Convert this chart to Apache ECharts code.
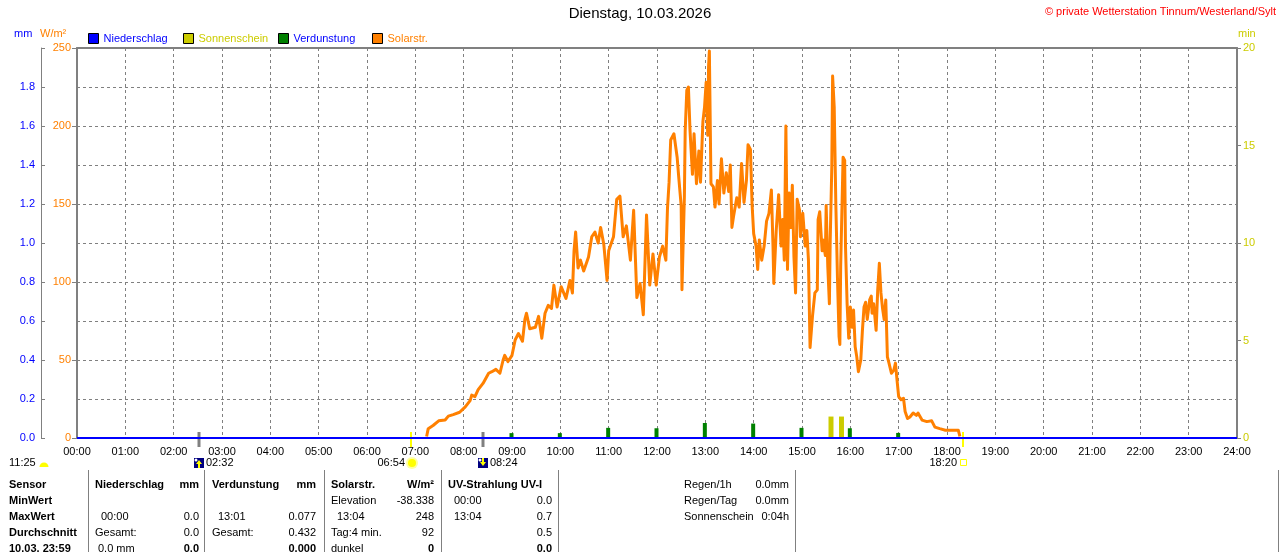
<!DOCTYPE html>
<html>
<head>
<meta charset="utf-8">
<title>Dienstag, 10.03.2026</title>
<script src="https://cdn.jsdelivr.net/npm/echarts@6/dist/echarts.min.js"></script>
<style>
html, body { margin: 0; padding: 0; background: #fff; }
#chart { width: 1280px; height: 552px; }
</style>
</head>
<body>
<div id="chart"></div>
<script>
var FONT = '"Liberation Sans", Arial, sans-serif';

// Solarstrahlung W/m², Zeit in Minuten seit 00:00
var solarTime = [
  434, 436, 442, 449, 457, 461, 467, 475, 482, 488, 490, 494, 498, 504, 511, 515, 520, 525, 529, 531,
  535, 540, 544, 548, 553, 556, 558, 562, 569, 573, 577, 581, 585, 589, 592, 596, 601, 607, 612, 615,
  617, 619, 622, 625, 629, 635, 639, 643, 647, 650, 654, 658, 660, 666, 670, 674, 678, 682, 687, 691,
  695, 699, 703, 707, 711, 715, 719, 723, 727, 731, 733, 735, 737, 741, 745, 747, 750, 751, 754, 755,
  757, 759, 761, 764, 766, 769, 772, 774, 777, 779, 781, 783, 784, 785, 787, 790, 792, 795, 797, 800,
  803, 806, 809, 811, 813, 815, 819, 822, 825, 828, 831, 833, 836, 838, 840, 843, 845, 847, 850, 853,
  856, 859, 862, 864, 865, 868, 871, 874, 876, 878, 880, 882, 884, 886, 888, 890, 892, 894, 897, 898,
  901, 904, 906, 908, 910, 913, 916, 919, 920, 922, 925, 926, 929, 930, 932, 934, 935, 937, 938, 940,
  942, 944, 946, 947, 948, 951, 953, 954, 956, 958, 960, 962, 964, 966, 968, 970, 973, 975, 977, 979,
  981, 984, 986, 987, 989, 992, 994, 996, 998, 1000, 1002, 1004, 1006, 1008, 1011, 1014, 1016, 1018, 1020, 1023,
  1026, 1028, 1031, 1034, 1038, 1042, 1044, 1049, 1055, 1061, 1065, 1071, 1078, 1086, 1094, 1096
];
var solarValue = [
  1, 6, 8, 11, 11.5, 14, 15, 16.5, 20, 24, 27.5, 26.5, 31, 35, 41.5, 42.5, 44, 41.5, 50, 53,
  49, 53, 63, 67, 62, 76, 80, 70, 71, 78, 64, 80, 85, 83, 98, 84, 97, 89.5, 101, 93,
  120, 132, 109, 114, 107, 116, 129, 132, 125, 135, 124, 101, 120, 129, 153, 155, 129, 136, 114, 146,
  90, 99, 79, 143, 98, 118, 98, 116, 123, 114, 147, 164, 191, 195, 180, 167, 149, 95, 155, 197,
  223, 225, 197, 169, 195, 163, 184, 164, 203, 212, 228, 194, 238, 248, 163, 161, 148, 165, 150, 179,
  157, 170, 158, 175, 135, 142, 154, 148, 176, 151, 165, 188, 185, 150, 131, 123, 108, 127, 114, 123,
  139, 144, 159, 123, 99, 133, 156, 123, 140, 114, 200, 108, 157, 135, 162, 116, 93, 153, 146, 129,
  144, 123, 133, 114, 58, 78, 93, 95, 140, 145, 120, 127, 117, 149, 110, 86, 126, 174, 232, 212,
  150, 103, 65, 60, 110, 180, 178, 123, 86, 64, 84, 71, 82, 58.5, 52, 42.5, 50, 69, 84, 87,
  76, 88.5, 91, 80, 86, 69, 95, 112, 93, 83, 76, 88.5, 52, 48, 41.5, 43.5, 48, 37, 26.5, 24.5,
  25.5, 17, 12.5, 13.5, 16, 14.5, 16, 11.5, 10.5, 11, 7, 6, 5, 5, 5, 1
];

// Verdunstung mm
var evapTime = ['09:00', '10:00', '11:00', '12:00', '13:00', '14:00', '15:00', '16:00', '17:00'];
var evapValue = [0.025, 0.025, 0.052, 0.05, 0.077, 0.074, 0.052, 0.05, 0.026];

// Sonnenschein min
var sunTime = ['15:36', '15:49'];
var sunValue = [1.1, 1.1];

// Niederschlag mm
var rainTime = ['00:00', '24:00'];
var rainValue = [0, 0];

// Mond / Sonne
var astroEvents = [
  { time: '02:32', kind: 'moonrise' },
  { time: '06:54', kind: 'sunrise' },
  { time: '08:24', kind: 'moonset' },
  { time: '18:20', kind: 'sunset' }
];

// Tabelle unten
var tableRowY = [485, 501, 517, 533, 549];
var tableCells = [
  // [zeile, x, text, ausrichtung, fett]
  [0, 9, 'Sensor', 'left', true], [1, 9, 'MinWert', 'left', true], [2, 9, 'MaxWert', 'left', true],
  [3, 9, 'Durchschnitt', 'left', true], [4, 9, '10.03. 23:59', 'left', true],
  [0, 95, 'Niederschlag', 'left', true], [0, 199, 'mm', 'right', true],
  [2, 101, '00:00', 'left', false], [2, 199, '0.0', 'right', false],
  [3, 95, 'Gesamt:', 'left', false], [3, 199, '0.0', 'right', false],
  [4, 98, '0.0 mm', 'left', false], [4, 199, '0.0', 'right', true],
  [0, 212, 'Verdunstung', 'left', true], [0, 316, 'mm', 'right', true],
  [2, 218, '13:01', 'left', false], [2, 316, '0.077', 'right', false],
  [3, 212, 'Gesamt:', 'left', false], [3, 316, '0.432', 'right', false],
  [4, 316, '0.000', 'right', true],
  [0, 331, 'Solarstr.', 'left', true], [0, 434, 'W/m²', 'right', true],
  [1, 331, 'Elevation', 'left', false], [1, 434, '-38.338', 'right', false],
  [2, 337, '13:04', 'left', false], [2, 434, '248', 'right', false],
  [3, 331, 'Tag:4 min.', 'left', false], [3, 434, '92', 'right', false],
  [4, 331, 'dunkel', 'left', false], [4, 434, '0', 'right', true],
  [0, 448, 'UV-Strahlung UV-I', 'left', true],
  [1, 454, '00:00', 'left', false], [1, 552, '0.0', 'right', false],
  [2, 454, '13:04', 'left', false], [2, 552, '0.7', 'right', false],
  [3, 552, '0.5', 'right', false], [4, 552, '0.0', 'right', true],
  [0, 684, 'Regen/1h', 'left', false], [0, 789, '0.0mm', 'right', false],
  [1, 684, 'Regen/Tag', 'left', false], [1, 789, '0.0mm', 'right', false],
  [2, 684, 'Sonnenschein', 'left', false], [2, 789, '0:04h', 'right', false]
];
var tableSeparators = [88, 204, 324, 441, 558, 795, 1278];

function toMin(s) {
  if (typeof s === 'number') return s;
  var p = s.split(':');
  return +p[0] * 60 + +p[1];
}
function pairs(t, v) {
  return t.map(function (x, i) { return [toMin(x), v[i]]; });
}
function hhmm(m) {
  var h = Math.floor(m / 60), mm = m % 60;
  return (h < 10 ? '0' : '') + h + ':' + (mm < 10 ? '0' : '') + mm;
}
function txt(x, y, s, color, align, bold) {
  return {
    type: 'text', x: x, y: y, silent: true,
    style: {
      text: s, fill: color || '#000',
      font: (bold ? 'bold ' : '') + '11px ' + FONT,
      textAlign: align || 'left', textVerticalAlign: 'middle'
    }
  };
}
function seg(x1, y1, x2, y2, color, w) {
  return { type: 'line', silent: true, shape: { x1: x1, y1: y1, x2: x2, y2: y2 }, style: { stroke: color, lineWidth: w } };
}

var legendDefs = [
  { name: 'Niederschlag', left: 88, text: '#0000FF' },
  { name: 'Sonnenschein', left: 183, text: '#CCCC00' },
  { name: 'Verdunstung', left: 278, text: '#0000FF' },
  { name: 'Solarstr.', left: 372, text: '#FF8000' }
];

var chart = echarts.init(document.getElementById('chart'));

var option = {
  animation: false,
  textStyle: { fontFamily: FONT },
  title: [
    { text: 'Dienstag, 10.03.2026', left: 'center', top: 6, padding: 0,
      textStyle: { fontSize: 15, fontWeight: 'normal', color: '#000', fontFamily: FONT } },
    { text: '© private Wetterstation Tinnum/Westerland/Sylt', right: 4, top: 6, padding: 0,
      textStyle: { fontSize: 11, fontWeight: 'normal', color: '#FF0000', fontFamily: FONT } }
  ],
  legend: legendDefs.map(function (d) {
    return {
      data: [d.name], left: d.left, top: 33, padding: 0, itemGap: 0,
      itemWidth: 10, itemHeight: 10, icon: 'rect', selectedMode: false,
      itemStyle: { borderColor: '#000', borderWidth: 1 },
      textStyle: { color: d.text, fontSize: 11, fontFamily: FONT }
    };
  }),
  grid: { left: 77, right: 43, top: 48, bottom: 114 },
  xAxis: [
    {
      type: 'value', min: 0, max: 1440, interval: 60,
      axisLine: { show: false }, axisTick: { show: false },
      axisLabel: { color: '#000', fontSize: 11, margin: 8, formatter: function (v) { return hhmm(v); } },
      splitLine: { show: true, lineStyle: { color: '#808080', type: [3, 3], width: 1 } }
    },
    {
      type: 'value', position: 'top', min: 0, max: 1440,
      axisLine: { show: true, onZero: false, lineStyle: { color: '#808080', width: 2 } },
      axisTick: { show: false }, axisLabel: { show: false }, splitLine: { show: false }
    }
  ],
  yAxis: [
    {
      type: 'value', min: 0, max: 250, interval: 50, position: 'left',
      axisLine: { show: true, onZero: false, lineStyle: { color: '#808080', width: 2 } },
      axisTick: { show: true, length: 5, lineStyle: { color: '#808080' } },
      axisLabel: { color: '#FF8000', fontSize: 11, margin: 6 },
      splitLine: { show: false }
    },
    {
      type: 'value', min: 0, max: 2, interval: 0.2, position: 'left', offset: 36,
      axisLine: { show: true, onZero: false, lineStyle: { color: '#808080', width: 1 } },
      axisTick: { show: true, inside: true, length: 4, lineStyle: { color: '#808080' } },
      axisLabel: { color: '#0000FF', fontSize: 11, margin: 6,
        formatter: function (v) { return v > 1.99 ? '' : v.toFixed(1); } },
      splitLine: { show: true, lineStyle: { color: '#808080', type: [3, 3], width: 1 } }
    },
    {
      type: 'value', min: 0, max: 20, interval: 5, position: 'right',
      axisLine: { show: true, onZero: false, lineStyle: { color: '#808080', width: 2 } },
      axisTick: { show: true, length: 4, lineStyle: { color: '#808080' } },
      axisLabel: { color: '#CCCC00', fontSize: 11, margin: 6 },
      splitLine: { show: false }
    }
  ],
  series: [
    {
      name: 'Solarstr.', type: 'line', xAxisIndex: 0, yAxisIndex: 0,
      data: pairs(solarTime, solarValue), symbol: 'none',
      lineStyle: { color: '#FF8000', width: 3, join: 'round' },
      itemStyle: { color: '#FF8000' }, z: 3
    },
    {
      name: 'Verdunstung', type: 'bar', xAxisIndex: 0, yAxisIndex: 1,
      data: pairs(evapTime, evapValue), barWidth: 4, barGap: '-100%',
      itemStyle: { color: '#008000' }, z: 4
    },
    {
      name: 'Sonnenschein', type: 'bar', xAxisIndex: 0, yAxisIndex: 2,
      data: pairs(sunTime, sunValue), barWidth: 5, barGap: '-100%',
      itemStyle: { color: '#CCCC00' }, z: 4
    },
    {
      name: 'Niederschlag', type: 'line', xAxisIndex: 0, yAxisIndex: 1,
      data: pairs(rainTime, rainValue), symbol: 'none',
      lineStyle: { color: '#0000FF', width: 2 },
      itemStyle: { color: '#0000FF' }, z: 5
    }
  ]
};
chart.setOption(option);

// Grafik: Achsennamen, Tabelle, Mond-/Sonnenzeiten
var g = [];
g.push(txt(14, 34, 'mm', '#0000FF'));
g.push(txt(40, 34, 'W/m²', '#FF8000'));
g.push(txt(1238, 34, 'min', '#CCCC00'));

tableCells.forEach(function (c) {
  g.push(txt(c[1], tableRowY[c[0]], c[2], '#000', c[3], c[4]));
});
tableSeparators.forEach(function (x) {
  g.push(seg(x + 0.5, 470, x + 0.5, 552, '#808080', 1));
});

var baseY = chart.convertToPixel({ yAxisIndex: 1 }, 0);
var iconY = 463;

// 11:25 links
g.push(txt(9, iconY, '11:25', '#000', 'left'));
g.push({ type: 'sector', silent: true,
  shape: { cx: 44, cy: 467, r: 4.5, startAngle: Math.PI, endAngle: Math.PI * 2 },
  style: { fill: '#FFFF00' } });

astroEvents.forEach(function (ev) {
  var x = Math.round(chart.convertToPixel({ xAxisIndex: 0 }, toMin(ev.time)));
  var moon = ev.kind === 'moonrise' || ev.kind === 'moonset';
  g.push(seg(x, baseY - 6, x, baseY + 9, moon ? '#808080' : '#FFFF00', moon ? 3 : 2));
  if (moon) {
    g.push({ type: 'rect', silent: true, shape: { x: x - 5, y: iconY - 5, width: 10, height: 10 }, style: { fill: '#000080' } });
    g.push({ type: 'circle', silent: true, shape: { cx: x - 3, cy: iconY - 3, r: 1.5 }, style: { fill: '#FFFFFF' } });
    var up = ev.kind === 'moonrise';
    var pts = up
      ? [[x, iconY - 3], [x + 3, iconY + 1], [x + 1, iconY + 1], [x + 1, iconY + 5], [x - 1, iconY + 5], [x - 1, iconY + 1], [x - 3, iconY + 1]]
      : [[x, iconY + 3], [x + 3, iconY - 1], [x + 1, iconY - 1], [x + 1, iconY - 5], [x - 1, iconY - 5], [x - 1, iconY - 1], [x - 3, iconY - 1]];
    g.push({ type: 'polygon', silent: true, shape: { points: pts }, style: { fill: '#FFFF00' } });
    g.push(txt(x + 7, iconY, ev.time, '#000', 'left'));
  } else if (ev.kind === 'sunrise') {
    g.push({ type: 'circle', silent: true, shape: { cx: x + 1, cy: iconY, r: 6 }, style: { fill: '#FFFFA0' } });
    g.push({ type: 'circle', silent: true, shape: { cx: x + 1, cy: iconY, r: 4 }, style: { fill: '#FFFF00' } });
    g.push(txt(x - 6, iconY, ev.time, '#000', 'right'));
  } else {
    g.push({ type: 'rect', silent: true, shape: { x: x - 2.5, y: iconY - 3.5, width: 6, height: 6 },
      style: { fill: 'none', stroke: '#FFFF00', lineWidth: 1 } });
    g.push(txt(x - 6, iconY, ev.time, '#000', 'right'));
  }
});

chart.setOption({ graphic: g });
</script>
</body>
</html>
